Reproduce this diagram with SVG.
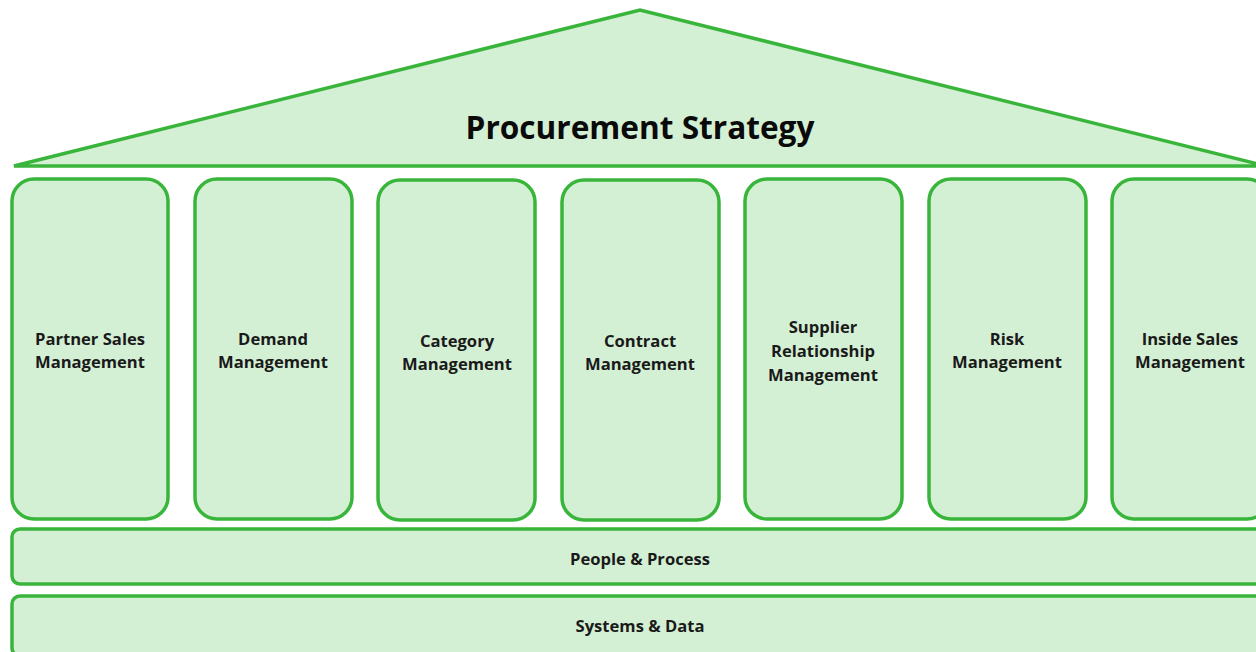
<svg xmlns="http://www.w3.org/2000/svg" width="1256" height="652" viewBox="0 0 1256 652">
  <style>
    .shape { fill: #d4f0d4; stroke: #38b53a; stroke-width: 3.5; }
    .label { font-family: "Open Sans", "Noto Sans", sans-serif; font-weight: 700; font-size: 16.6px; fill: #1a1a1a; text-anchor: middle; }
    .title { font-family: "Open Sans", "Noto Sans", sans-serif; font-weight: 700; font-size: 31.6px; fill: #0a0a0a; text-anchor: middle; }
  </style>
  <rect width="1256" height="652" fill="#ffffff"/>

  <!-- roof -->
  <g id="roof">
    <polygon class="shape" points="14,166 640,10 1258,164 1258,166" stroke-linejoin="miter"/>
    <text class="title" x="640" y="139">Procurement Strategy</text>
  </g>

  <!-- pillars -->
  <g id="pillar-partner-sales">
    <rect class="shape" x="12" y="179" width="156" height="340" rx="22"/>
    <text class="label" x="90" y="345">Partner Sales</text>
    <text class="label" x="90" y="368">Management</text>
  </g>
  <g id="pillar-demand">
    <rect class="shape" x="195" y="179" width="157" height="340" rx="22"/>
    <text class="label" x="273" y="345">Demand</text>
    <text class="label" x="273" y="368">Management</text>
  </g>
  <g id="pillar-category">
    <rect class="shape" x="378" y="180" width="157" height="340" rx="22"/>
    <text class="label" x="457" y="347">Category</text>
    <text class="label" x="457" y="370">Management</text>
  </g>
  <g id="pillar-contract">
    <rect class="shape" x="562" y="180" width="157" height="340" rx="22"/>
    <text class="label" x="640" y="347">Contract</text>
    <text class="label" x="640" y="370">Management</text>
  </g>
  <g id="pillar-supplier-relationship">
    <rect class="shape" x="745" y="179" width="157" height="340" rx="22"/>
    <text class="label" x="823" y="333">Supplier</text>
    <text class="label" x="823" y="357">Relationship</text>
    <text class="label" x="823" y="381">Management</text>
  </g>
  <g id="pillar-risk">
    <rect class="shape" x="929" y="179" width="157" height="340" rx="22"/>
    <text class="label" x="1007" y="345">Risk</text>
    <text class="label" x="1007" y="368">Management</text>
  </g>
  <g id="pillar-inside-sales">
    <rect class="shape" x="1112" y="179" width="157" height="340" rx="22"/>
    <text class="label" x="1190" y="345">Inside Sales</text>
    <text class="label" x="1190" y="368">Management</text>
  </g>

  <!-- foundation layers -->
  <g id="layer-people-process">
    <rect class="shape" x="12" y="529" width="1260" height="55" rx="8"/>
    <text class="label" x="640" y="565">People &amp; Process</text>
  </g>
  <g id="layer-systems-data">
    <rect class="shape" x="12" y="596" width="1260" height="60" rx="8"/>
    <text class="label" x="640" y="632">Systems &amp; Data</text>
  </g>

  <g id="connectors"/>
</svg>
